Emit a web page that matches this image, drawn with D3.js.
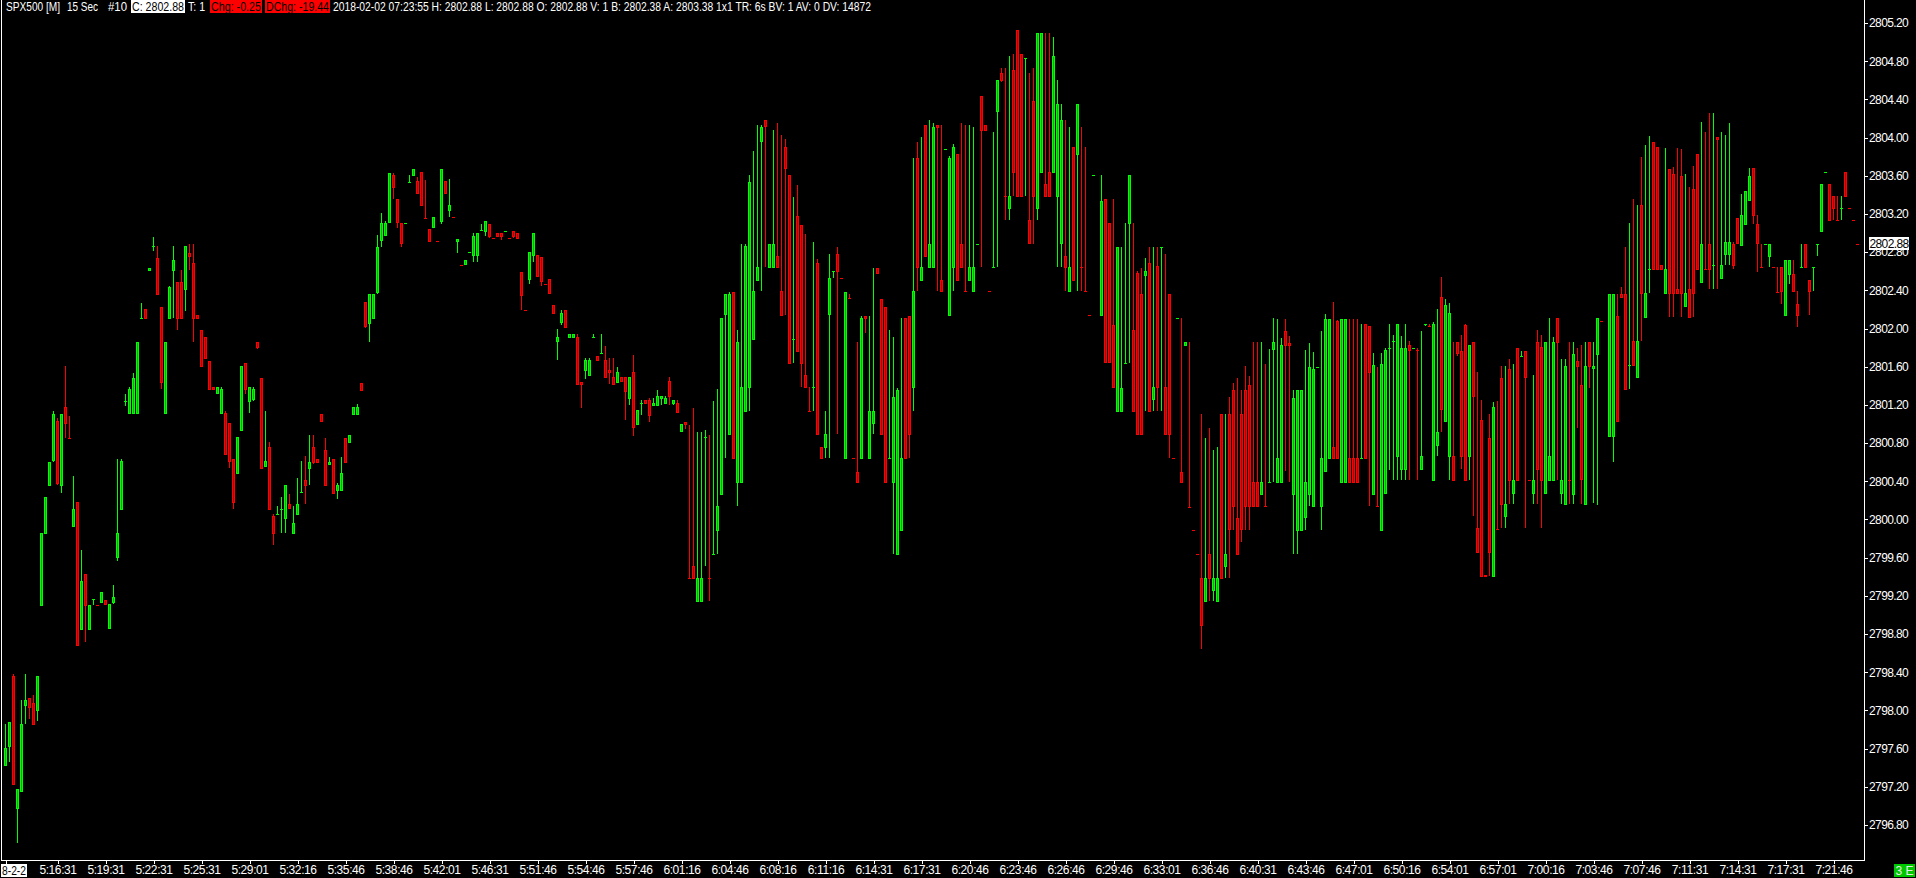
<!DOCTYPE html>
<html><head><meta charset="utf-8">
<script src="https://cdn.jsdelivr.net/npm/d3@7"></script>
<style>html,body{margin:0;padding:0;background:#000;overflow:hidden}svg{display:block}
text{font-family:"Liberation Sans",Arial,sans-serif;font-size:12px}</style></head><body>
<svg id="c" width="1916" height="878"></svg>
<script>
const high=[
2797.85,2797.87,2798.37,2797.17,2798.10,2798.37,2798.12,2798.15,2798.35,2799.85,
2800.22,2800.59,2801.13,2801.05,2801.09,2801.60,2801.07,2800.44,2800.17,2799.67,
2799.42,2799.09,2799.16,2799.09,2799.23,2799.15,2799.10,2799.30,2800.62,2800.62,
2801.30,2801.38,2801.52,2801.85,2802.26,2802.19,2802.62,2802.95,2802.85,2802.22,
2801.85,2802.43,2802.85,2802.48,2802.60,2802.85,2802.87,2802.87,2802.13,2801.97,
2801.90,2801.65,2801.38,2801.38,2801.38,2801.13,2801.00,2800.62,2800.85,2801.60,
2801.63,2801.38,2801.38,2801.85,2801.47,2801.13,2800.80,2800.05,2800.13,2800.22,
2800.35,2800.26,2800.13,2800.42,2800.60,2800.65,2800.87,2800.87,2800.62,2801.09,
2800.84,2800.64,2800.62,2800.37,2800.64,2800.84,2800.87,2801.17,2801.20,2801.42,
2802.27,2802.35,2802.35,2802.97,2803.20,2803.12,2803.62,2803.62,2803.35,2803.10,
2803.10,2803.60,2803.66,2803.58,2803.63,2803.54,2803.03,2803.16,2802.91,2803.66,
2803.53,2803.56,2803.16,2802.93,2802.65,2802.71,2802.79,2802.99,2802.99,2803.08,
2803.12,2803.08,2802.94,2802.99,2802.99,2803.01,2802.94,2803.01,2802.99,2802.58,
2802.18,2802.79,2802.99,2802.76,2802.74,2802.46,2802.51,2802.24,2801.98,2802.18,
2802.18,2801.93,2801.93,2801.93,2801.43,2801.68,2801.68,2801.93,2801.70,2801.93,
2801.81,2801.68,2801.68,2801.59,2801.48,2801.48,2801.48,2801.71,2801.14,2801.24,
2801.24,2801.26,2801.26,2801.35,2801.28,2801.28,2801.48,2801.24,2801.24,2800.99,
2801.01,2800.98,2801.16,2800.91,2800.91,2800.93,2800.87,2801.23,2801.36,2802.10,
2802.35,2802.37,2802.37,2801.97,2802.87,2802.87,2803.60,2803.85,2804.12,2804.12,
2804.17,2802.88,2804.07,2804.14,2804.02,2803.97,2803.60,2803.37,2803.49,2803.07,
2802.98,2801.38,2802.90,2802.72,2800.75,2801.13,2802.77,2802.59,2802.84,2802.52,
2802.37,2802.35,2800.63,2801.85,2802.12,2802.12,2802.12,2802.62,2802.62,2802.30,
2802.22,2801.97,2801.90,2801.37,2802.10,2802.10,2802.12,2803.78,2803.94,2804.00,
2804.12,2804.17,2804.14,2804.12,2804.12,2803.87,2803.80,2803.92,2803.82,2804.14,
2804.12,2804.12,2804.10,2802.88,2804.42,2804.12,2802.38,2804.05,2804.59,2804.72,
2804.72,2804.84,2804.87,2805.12,2804.87,2804.82,2804.67,2804.72,2805.09,2805.09,
2805.09,2805.09,2805.04,2804.59,2804.34,2804.17,2804.10,2803.89,2804.34,2804.10,
2803.89,2802.13,2803.60,null,2803.60,2803.35,2803.10,2803.35,2802.84,2802.84,
2803.10,2803.60,2803.10,2802.59,2802.62,2802.73,2802.84,2802.84,2802.84,2802.84,
2802.77,2802.35,2800.63,2802.10,2802.10,2801.85,2801.85,2799.88,2799.63,2801.09,
2800.84,2800.95,2800.72,2800.75,2801.09,2801.09,2801.27,2801.42,2801.47,2801.35,
2801.60,2801.49,2801.85,2801.85,2801.85,2801.62,2801.77,2802.10,2802.09,2801.89,
2802.09,2801.91,2801.35,2801.35,2801.35,2801.76,2801.84,2801.74,2801.59,2801.96,
2802.14,2802.09,2802.27,2802.08,2802.09,2802.09,2802.09,2802.09,2802.09,2802.04,
2802.04,2802.02,2801.73,2801.59,2801.73,2801.79,2802.04,2801.92,2802.04,2801.91,
2802.04,2801.86,2801.79,2801.79,2801.96,2802.04,2802.04,2802.06,2802.19,2802.53,
2802.30,2802.26,2801.85,2801.85,2801.92,2802.04,2801.82,2801.85,2801.53,2801.24,
2799.41,2801.09,2801.22,2801.23,2801.60,2801.60,2801.67,2801.62,2801.79,2801.75,
2801.75,2800.40,2801.50,2801.97,2801.92,2801.85,2802.10,2801.90,2802.10,2801.67,
2801.67,2801.85,2801.85,2801.79,2801.82,2801.85,2801.85,2801.85,2802.10,2802.07,
null,2802.35,2802.35,2802.35,2802.42,2802.84,2803.10,2803.35,2803.28,2803.79,
2803.91,2804.01,2803.94,2803.89,2802.65,2803.88,2803.66,2803.68,2803.88,2803.87,
2803.61,2803.47,2803.69,2803.82,2804.15,2804.05,2804.25,2804.25,2804.00,2804.05,
2804.02,2804.14,2802.90,2803.15,2803.40,2803.43,2803.67,2803.67,2803.18,2802.88,
2802.88,2802.88,2802.63,2802.63,2802.63,2802.71,2802.71,2802.71,2802.38,2802.88,
2802.88,2802.50,2802.63,2802.88,2803.50,2803.63,2803.50,2803.38,2803.38,2803.38,
2803.63,2803.25,2803.13,2802.88];
const low=[
2797.41,2797.45,2797.21,2796.60,2797.13,2797.85,2797.90,2797.84,2797.88,2799.08,
2799.84,2800.34,2800.59,2800.35,2800.27,2800.84,2800.84,2799.91,2798.66,2798.83,
2798.71,2798.83,2799.09,2799.09,2799.11,2799.09,2798.84,2799.10,2799.55,2800.09,
2801.18,2801.09,2801.09,2801.09,2802.10,2802.09,2802.59,2802.80,2802.34,2801.36,
2801.09,2802.09,2802.10,2801.97,2802.09,2802.17,2802.60,2801.85,2802.09,2801.59,
2801.67,2801.35,2801.35,2801.30,2801.09,2800.66,2800.53,2800.10,2800.47,2800.92,
2801.30,2801.10,2801.23,2801.77,2800.52,2800.54,2800.09,2799.72,2800.05,2799.85,
2799.85,2800.10,2799.84,2800.04,2800.28,2800.15,2800.35,2800.57,2800.58,2801.01,
2800.34,2800.56,2800.26,2800.20,2800.29,2800.58,2800.79,2801.08,2801.08,2801.34,
2802.00,2801.85,2802.09,2802.35,2802.84,2802.96,2803.10,2803.35,2803.04,2802.84,
2803.10,2803.52,2803.59,2803.40,2803.27,2803.15,2802.90,2803.04,2802.91,2803.08,
2803.40,2803.16,2803.16,2802.78,2802.65,2802.66,2802.79,2802.69,2802.69,2803.01,
2802.96,2802.94,2802.94,2802.95,2802.92,2803.01,2802.94,2802.94,2802.93,2802.18,
2802.18,2802.46,2802.69,2802.53,2802.43,2802.46,2802.35,2802.14,2801.66,2802.03,
2802.00,2801.89,2801.89,2801.40,2801.16,2801.46,2801.49,2801.90,2801.65,2801.73,
2801.47,2801.41,2801.40,2801.42,2801.43,2801.03,2801.19,2800.86,2800.98,2801.08,
2801.20,2801.01,2801.18,2801.18,2801.19,2801.20,2801.19,2801.19,2801.10,2800.91,
2800.94,2799.38,2799.37,2799.13,2799.13,2799.50,2799.14,2799.63,2799.63,2800.25,
2800.63,2800.87,2800.62,2800.13,2800.37,2801.11,2801.13,2801.87,2802.49,2802.38,
2802.63,2802.62,2802.62,2802.62,2802.12,2802.13,2801.62,2801.63,2801.74,2801.38,
2801.37,2801.13,2801.13,2800.87,2800.62,2800.63,2800.63,2802.52,2800.88,2802.52,
2800.62,2802.31,2800.63,2800.37,2800.62,2801.94,2800.62,2800.88,2802.56,2800.87,
2800.37,2800.63,2799.63,2799.62,2799.87,2800.62,2800.63,2801.13,2802.38,2802.49,
2802.74,2802.62,2802.62,2802.38,2802.37,2803.87,2802.12,2802.38,2802.49,2802.62,
2802.38,2802.49,2802.37,2802.88,2802.63,2804.06,2802.38,2802.63,2802.63,2804.57,
2803.13,2803.13,2803.38,2803.37,2803.37,2803.38,2802.87,2802.88,2803.13,2803.62,
2803.37,2803.37,2803.62,2802.63,2802.63,2802.38,2802.37,2802.49,2802.38,2802.38,
2802.38,2802.13,2803.60,null,2802.12,2801.63,2801.63,2801.37,2801.11,2801.11,
2801.63,2801.63,2801.11,2800.87,2800.87,2801.13,2801.11,2801.13,2801.13,2801.13,
2800.87,2800.63,2800.63,2802.10,2800.37,2801.81,2800.12,2799.88,2799.63,2798.63,
2799.13,2799.14,2799.14,2799.13,2799.37,2799.38,2799.38,2799.88,2799.62,2799.75,
2799.88,2799.88,2800.12,2800.12,2800.25,2800.13,2800.38,2800.38,2800.37,2800.37,
2800.50,2800.38,2799.63,2799.63,2799.87,2799.88,2800.13,2800.12,2801.59,2799.88,
2800.49,2800.62,2800.62,2800.62,2800.37,2800.37,2800.37,2800.37,2800.37,2800.63,
2800.62,2800.13,2800.25,2800.13,2799.87,2800.26,2800.51,2800.40,2800.40,2800.40,
2800.40,2800.40,2801.79,2800.40,2800.51,2802.02,2802.02,2800.39,2800.65,2800.91,
2801.01,2800.40,2800.39,2801.70,2800.52,2800.39,2800.40,2800.03,2799.64,2799.39,
2799.40,2799.40,2799.39,2799.89,2799.90,2799.90,2800.15,2800.15,2800.39,2801.70,
2799.90,2800.40,2800.15,2800.15,2799.90,2800.26,2800.39,2800.39,2800.40,2800.15,
2800.14,2800.15,2800.15,2800.95,2800.15,2800.14,2801.37,2800.16,2800.14,2802.07,
null,2800.85,2800.59,2801.01,2802.31,2801.35,2801.36,2801.60,2801.47,2801.86,
2802.10,2802.36,2802.60,2802.60,2802.60,2802.35,2802.11,2802.11,2802.35,2802.11,
2802.22,2802.10,2802.11,2802.60,2802.47,2802.61,2802.40,2802.40,2802.40,2802.51,
2802.65,2802.65,2802.61,2802.87,2802.85,2803.07,2803.32,2803.08,2802.58,2802.63,
2802.88,2802.63,2802.63,2802.37,2802.25,2802.12,2802.46,2802.37,2802.01,2802.63,
2802.62,2802.13,2802.38,2802.75,2803.00,2803.63,2803.12,2803.13,2803.13,2803.13,
2803.37,2803.25,2803.13,2802.88];
const open=[
2797.41,2797.61,2798.35,2796.96,2797.13,2798.04,2798.12,2798.07,2797.98,2799.08,
2799.84,2800.34,2800.60,2801.02,2800.34,2801.17,2800.84,2799.91,2800.17,2798.83,
2799.42,2798.83,2799.16,2799.09,2799.11,2799.15,2798.84,2799.11,2799.59,2800.09,
2801.23,2801.09,2801.09,2801.09,2802.10,2802.19,2802.59,2802.85,2802.73,2802.22,
2801.09,2802.09,2802.59,2802.48,2802.48,2802.39,2802.78,2802.68,2802.13,2801.97,
2801.90,2801.65,2801.38,2801.30,2801.09,2801.10,2801.00,2800.62,2800.47,2800.92,
2801.63,2801.22,2801.24,2801.85,2801.47,2800.54,2800.75,2800.03,2800.05,2800.10,
2799.99,2800.15,2799.84,2800.04,2800.28,2800.40,2800.52,2800.75,2800.62,2801.09,
2800.72,2800.56,2800.62,2800.29,2800.29,2800.84,2800.79,2801.08,2801.08,2801.42,
2802.27,2802.04,2802.09,2802.36,2802.91,2802.96,2803.10,2803.60,2803.35,2803.10,
2803.10,2803.52,2803.59,2803.53,2803.63,2803.15,2803.03,2803.04,2802.91,2803.11,
2803.53,2803.22,2803.16,2802.90,2802.65,2802.66,2802.79,2802.75,2802.75,2803.02,
2803.00,2803.08,2802.94,2802.99,2802.99,2803.01,2802.94,2803.01,2802.99,2802.58,
2802.18,2802.50,2802.75,2802.76,2802.74,2802.46,2802.51,2802.24,2801.85,2802.05,
2802.18,2801.89,2801.89,2801.90,2801.43,2801.54,2801.49,2801.90,2801.70,2801.73,
2801.66,2801.55,2801.48,2801.42,2801.48,2801.48,2801.25,2801.53,2800.98,2801.21,
2801.24,2801.24,2801.18,2801.18,2801.25,2801.20,2801.44,2801.20,2801.21,2800.91,
2801.01,2799.38,2799.50,2799.13,2799.13,2800.85,2799.38,2799.63,2799.87,2800.25,
2802.13,2800.87,2802.37,2800.37,2800.37,2801.11,2801.37,2801.87,2802.49,2803.94,
2804.17,2802.62,2802.62,2802.75,2802.38,2803.89,2803.60,2801.88,2803.17,2803.07,
2801.50,2801.13,2801.38,2802.68,2800.75,2800.74,2802.13,2802.59,2802.77,2802.52,
2800.62,2802.31,2800.63,2800.49,2800.62,2802.12,2800.62,2800.99,2802.62,2802.30,
2802.22,2800.63,2800.37,2799.62,2799.87,2802.10,2802.12,2801.37,2803.78,2802.49,
2804.12,2802.62,2802.62,2804.12,2802.50,2803.87,2802.12,2802.62,2803.82,2802.88,
2802.38,2802.49,2802.37,2802.88,2804.42,2804.12,2802.38,2802.63,2804.26,2804.67,
2803.38,2803.24,2804.70,2805.12,2804.87,2804.82,2803.13,2804.37,2803.24,2803.62,
2803.50,2803.63,2803.62,2803.37,2802.87,2802.75,2802.37,2803.89,2803.81,2802.63,
2802.38,2802.13,2803.60,null,2802.12,2803.35,2803.10,2802.03,2801.11,2801.11,
2801.63,2803.08,2801.97,2802.57,2802.35,2802.54,2802.68,2801.24,2802.64,2802.84,
2801.38,2802.35,2800.63,2802.10,2800.49,2801.81,2800.12,2799.88,2799.63,2799.38,
2799.13,2799.63,2799.24,2799.13,2801.09,2799.49,2801.09,2801.35,2800.00,2801.09,
2801.35,2801.40,2800.38,2800.38,2800.25,2800.13,2800.38,2801.76,2800.37,2800.37,
2801.96,2801.84,2800.25,2799.87,2799.87,2800.00,2800.25,2800.12,2801.59,2800.12,
2800.49,2800.62,2800.75,2802.07,2800.37,2800.37,2800.63,2800.63,2800.63,2800.63,
2802.04,2802.02,2800.25,2800.13,2799.87,2800.26,2801.79,2801.86,2800.64,2800.51,
2800.51,2801.82,2801.79,2801.76,2800.51,2802.04,2802.02,2800.39,2800.76,2802.32,
2801.01,2800.64,2800.65,2801.85,2801.75,2802.03,2800.64,2801.85,2799.90,2801.03,
2799.41,2800.84,2799.39,2799.89,2801.47,2800.02,2801.57,2800.26,2801.79,2801.70,
2801.75,2800.40,2800.26,2801.85,2801.80,2800.26,2800.39,2800.39,2802.10,2800.26,
2800.14,2800.40,2800.25,2801.65,2801.40,2800.14,2801.85,2801.57,2801.71,2802.07,
null,2800.85,2800.85,2802.12,2802.35,2802.35,2801.61,2801.86,2801.47,2803.28,
2802.10,2802.61,2803.94,2803.89,2802.65,2802.35,2803.66,2803.61,2802.40,2803.59,
2802.22,2802.40,2803.45,2803.82,2802.47,2802.61,2802.87,2802.65,2804.00,2802.51,
2802.76,2802.76,2802.87,2803.15,2802.85,2803.07,2803.32,2803.67,2803.08,2802.63,
2802.88,2802.74,2802.63,2802.37,2802.63,2802.12,2802.55,2802.56,2802.25,2802.63,
2802.88,2802.50,2802.63,2802.88,2803.00,2803.63,2803.50,2803.38,2803.13,2803.25,
2803.63,2803.25,2803.13,2802.88];
const close=[
2797.60,2797.87,2797.21,2797.17,2797.85,2798.10,2798.02,2797.84,2798.35,2799.85,
2800.22,2800.59,2801.09,2800.36,2801.09,2800.99,2800.84,2800.10,2798.66,2799.35,
2799.08,2799.09,2799.16,2799.09,2799.23,2799.09,2799.10,2799.18,2799.85,2800.60,
2801.23,2801.36,2801.47,2801.85,2802.10,2802.09,2802.62,2802.85,2802.34,2801.42,
2801.85,2802.42,2802.71,2802.09,2802.09,2802.85,2802.74,2802.09,2802.09,2801.59,
2801.67,2801.35,2801.35,2801.38,2801.36,2800.66,2800.59,2800.16,2800.85,2801.60,
2801.35,2801.38,2801.36,2801.79,2800.52,2800.60,2800.09,2799.84,2800.05,2800.10,
2800.35,2800.10,2799.95,2800.15,2800.28,2800.34,2800.59,2800.58,2800.58,2801.01,
2800.34,2800.59,2800.26,2800.35,2800.48,2800.58,2800.87,2801.17,2801.17,2801.34,
2802.01,2802.35,2802.35,2802.84,2803.10,2803.10,2803.62,2803.46,2803.10,2802.87,
2803.10,2803.52,2803.66,2803.40,2803.27,2803.15,2802.90,2803.16,2802.91,2803.66,
2803.40,2803.28,2803.16,2802.93,2802.65,2802.71,2802.79,2802.96,2802.99,2803.02,
2803.12,2802.95,2802.94,2802.95,2802.95,2803.01,2802.94,2802.95,2802.93,2802.33,
2802.18,2802.79,2802.99,2802.53,2802.48,2802.46,2802.35,2802.14,2801.90,2802.15,
2802.00,2801.93,2801.93,2801.40,2801.40,2801.66,2801.66,2801.90,2801.65,2801.73,
2801.47,2801.52,2801.40,2801.53,2801.43,2801.32,2801.48,2800.95,2801.14,2801.21,
2801.20,2801.07,2801.21,2801.28,2801.28,2801.26,2801.27,2801.24,2801.10,2800.99,
2800.98,2799.38,2799.37,2799.38,2799.38,2800.85,2799.38,2799.63,2800.13,2802.10,
2802.35,2802.35,2800.62,2801.85,2801.38,2802.85,2803.52,2802.38,2802.63,2804.10,
2804.10,2802.88,2802.88,2802.62,2802.12,2803.66,2801.62,2801.88,2801.74,2801.62,
2801.37,2801.13,2801.38,2800.87,2800.62,2800.88,2802.52,2802.59,2802.58,2802.52,
2802.37,2802.31,2800.63,2800.37,2802.10,2802.09,2801.13,2801.13,2802.56,2800.87,
2800.37,2800.63,2801.27,2801.35,2800.63,2800.62,2800.87,2802.38,2802.62,2802.63,
2802.74,2802.88,2804.10,2804.09,2802.37,2803.87,2803.78,2803.89,2802.49,2802.62,
2802.38,2802.63,2802.63,2802.88,2804.06,2804.06,2802.38,2802.63,2804.59,2804.58,
2803.38,2803.38,2803.62,2803.37,2803.37,2804.82,2802.87,2803.37,2805.09,2805.09,
2803.37,2803.37,2804.84,2804.34,2804.17,2802.62,2802.63,2802.49,2804.34,2802.63,
2802.38,2802.13,2803.60,null,2803.32,2801.63,2801.63,2801.37,2802.84,2801.37,
2801.63,2803.60,2801.11,2800.87,2800.87,2802.59,2801.11,2801.38,2801.37,2802.84,
2800.87,2800.87,2800.63,2802.10,2800.37,2801.85,2800.12,2799.88,2799.63,2798.87,
2799.38,2799.37,2799.38,2799.38,2799.37,2799.63,2799.88,2800.12,2799.62,2799.88,
2800.12,2800.12,2800.12,2800.12,2800.38,2800.13,2800.38,2801.85,2800.63,2801.82,
2801.81,2801.81,2801.26,2801.35,2801.35,2800.38,2801.59,2801.57,2801.59,2800.63,
2802.09,2802.09,2800.62,2800.62,2802.09,2802.09,2800.37,2800.37,2800.37,2800.63,
2800.62,2801.52,2801.61,2800.13,2801.62,2801.76,2801.79,2801.86,2802.04,2801.79,
2801.79,2801.75,2801.79,2801.76,2800.65,2802.04,2802.02,2802.04,2800.91,2801.14,
2802.24,2802.15,2800.39,2801.72,2800.64,2800.39,2801.82,2801.27,2799.64,2799.39,
2799.39,2799.64,2801.17,2799.89,2800.14,2800.15,2800.39,2800.40,2800.39,2801.70,
2801.47,2800.40,2800.40,2800.51,2800.39,2801.85,2800.65,2801.85,2801.84,2800.40,
2801.60,2800.40,2801.72,2801.59,2800.40,2801.60,2801.59,2801.60,2802.10,2802.07,
null,2802.35,2802.35,2801.01,2802.31,2801.35,2801.61,2801.60,2801.86,2802.35,
2802.36,2802.61,2802.60,2802.60,2802.60,2802.61,2802.35,2802.35,2802.35,2802.35,
2802.36,2802.10,2802.35,2802.60,2802.87,2802.61,2802.60,2802.65,2803.96,2802.65,
2802.90,2802.90,2802.64,2802.88,2803.18,2803.43,2803.59,2803.17,2802.87,2802.63,
2802.88,2802.88,2802.63,2802.37,2802.37,2802.71,2802.71,2802.37,2802.12,2802.63,
2802.62,2802.37,2802.63,2802.88,2803.50,2803.63,2803.12,2803.24,2803.13,2803.25,
2803.37,2803.25,2803.13,2802.88];
const flatUp=[22,30,34,37,68,69,74,100,101,116,119,125,147,149,159,175,177,197,202,207,221,235,243,247,255,272,280,289,293,316,328,339,346,347,352,355,379,406,411,427,440,449,452,453,455,459];
const xTickBars=d3.range(13,13+12*38,12);
const xTickLabels=["5:16:31","5:19:31","5:22:31","5:25:31","5:29:01","5:32:16","5:35:46","5:38:46","5:42:01","5:46:31","5:51:46","5:54:46","5:57:46","6:01:16","6:04:46","6:08:16","6:11:16","6:14:31","6:17:31","6:20:46","6:23:46","6:26:46","6:29:46","6:33:01","6:36:46","6:40:31","6:43:46","6:47:01","6:50:16","6:54:01","6:57:01","7:00:16","7:03:46","7:07:46","7:11:31","7:14:31","7:17:31","7:21:46"];
const yTicks=["2805.20","2804.80","2804.40","2804.00","2803.60","2803.20","2802.80","2802.40","2802.00","2801.60","2801.20","2800.80","2800.40","2800.00","2799.60","2799.20","2798.80","2798.40","2798.00","2797.60","2797.20","2796.80"].map(Number);
const lastPrice=2802.88;
const GREEN="#00ff00",RED="#ff0000",GREEN_IN="#00b800",RED_IN="#b80000";

const svg=d3.select("#c");
svg.append("rect").attr("width",1916).attr("height",878).attr("fill","#000");
const x=d3.scaleLinear().domain([0,463]).range([5,1857]);
const y=d3.scaleLinear().domain([2796.8,2805.2]).range([824,22]);
const flatSet=new Set(flatUp);
const idx=d3.range(high.length).filter(i=>high[i]!==null);
const isUp=i=>close[i]>open[i]||(close[i]===open[i]&&flatSet.has(i));
const col=i=>isUp(i)?GREEN:RED;
const bt=i=>Math.round(y(Math.max(open[i],close[i])));
const bb=i=>Math.round(y(Math.min(open[i],close[i])));

const g=svg.append("g");
g.selectAll("rect.w").data(idx).join("rect").attr("class","w")
 .attr("shape-rendering","crispEdges")
 .attr("x",i=>x(i)).attr("width",1)
 .attr("y",i=>Math.round(y(high[i])))
 .attr("height",i=>Math.max(1,Math.round(y(low[i]))-Math.round(y(high[i]))))
 .attr("fill",col);
g.selectAll("rect.b").data(idx).join("rect").attr("class","b")
 .attr("shape-rendering","crispEdges")
 .attr("x",i=>x(i)-1).attr("width",3)
 .attr("y",bt)
 .attr("height",i=>Math.max(1,bb(i)-bt(i)))
 .attr("fill",col);
g.selectAll("rect.c").data(idx.filter(i=>bb(i)-bt(i)>2)).join("rect").attr("class","c")
 .attr("shape-rendering","crispEdges")
 .attr("x",i=>x(i)).attr("width",1)
 .attr("y",i=>bt(i)+1)
 .attr("height",i=>bb(i)-bt(i)-2)
 .attr("fill",i=>isUp(i)?GREEN_IN:RED_IN);

// frame
const frame=svg.append("g").attr("stroke","#fff").attr("shape-rendering","crispEdges");
frame.append("line").attr("x1",1.5).attr("x2",1.5).attr("y1",0).attr("y2",860);
frame.append("line").attr("x1",1864.5).attr("x2",1864.5).attr("y1",0).attr("y2",861);
frame.append("line").attr("x1",1).attr("x2",1865).attr("y1",860.5).attr("y2",860.5);

// y axis
const ya=svg.append("g").attr("transform","translate(1865,1)")
 .call(d3.axisRight(y).tickValues(yTicks).tickSize(3).tickPadding(1).tickFormat(d3.format(".2f")));
ya.select(".domain").remove();
ya.selectAll("line").attr("stroke","#fff").attr("shape-rendering","crispEdges");
ya.selectAll("text").attr("fill","#fff").style("font-size","12px").style("font-family","Liberation Sans").style("letter-spacing","-0.6px");

// x axis
const xa=svg.append("g").attr("transform","translate(0.5,861)")
 .call(d3.axisBottom(x).tickValues(xTickBars.concat([0])).tickSize(3).tickPadding(1)
 .tickFormat(d=>d===0?"":xTickLabels[xTickBars.indexOf(d)]));
xa.select(".domain").remove();
xa.selectAll("line").attr("stroke","#fff").attr("shape-rendering","crispEdges");
xa.selectAll("text").attr("fill","#fff").style("font-size","12px").style("font-family","Liberation Sans").style("letter-spacing","-0.4px");

// date chip on the x axis
svg.append("rect").attr("x",1).attr("y",864).attr("width",26).attr("height",13).attr("fill","#fff");
svg.append("text").attr("x",2).attr("y",875).attr("fill","#000").attr("textLength",24).attr("lengthAdjust","spacingAndGlyphs").text("8-2-2");

// last-price chip
svg.append("rect").attr("x",1869).attr("y",237).attr("width",40).attr("height",13).attr("fill","#fff");
svg.append("text").attr("x",1889).attr("y",248).attr("text-anchor","middle").attr("fill","#000").style("letter-spacing","-0.6px").text(d3.format(".2f")(lastPrice));

// header
const headerItems=[
 {t:"SPX500 [M]",x:6,w:54},
 {t:"15 Sec",x:67,w:31},
 {t:"#10",x:108,w:19},
 {t:"C: 2802.88",x:132,w:52,bg:"#fff",fg:"#000",bx:131,bw:54},
 {t:"T: 1",x:188,w:17},
 {t:"Chg: -0.25",x:211,w:50,bg:"#ff0000",fg:"#000",bx:210,bw:52},
 {t:"DChg: -19.44",x:266,w:63,bg:"#ff0000",fg:"#000",bx:265,bw:65},
 {t:"2018-02-02 07:23:55 H: 2802.88 L: 2802.88 O: 2802.88 V: 1 B: 2802.38 A: 2803.38 1x1 TR: 6s BV: 1 AV: 0 DV: 14872",x:333,w:538}
];
const hdr=svg.append("g");
headerItems.filter(d=>d.bg).forEach(d=>hdr.append("rect").attr("x",d.bx).attr("y",0).attr("width",d.bw).attr("height",13).attr("fill",d.bg));
headerItems.forEach(d=>hdr.append("text").attr("x",d.x).attr("y",11).attr("fill",d.fg||"#fff")
 .attr("textLength",d.w).attr("lengthAdjust","spacingAndGlyphs").text(d.t));

// status chip
svg.append("rect").attr("x",1894).attr("y",864).attr("width",21).attr("height",13).attr("fill","#00c800");
svg.append("text").attr("x",1904.5).attr("y",875).attr("text-anchor","middle").attr("fill","#e8e8e8").text("3 E");
</script></body></html>
